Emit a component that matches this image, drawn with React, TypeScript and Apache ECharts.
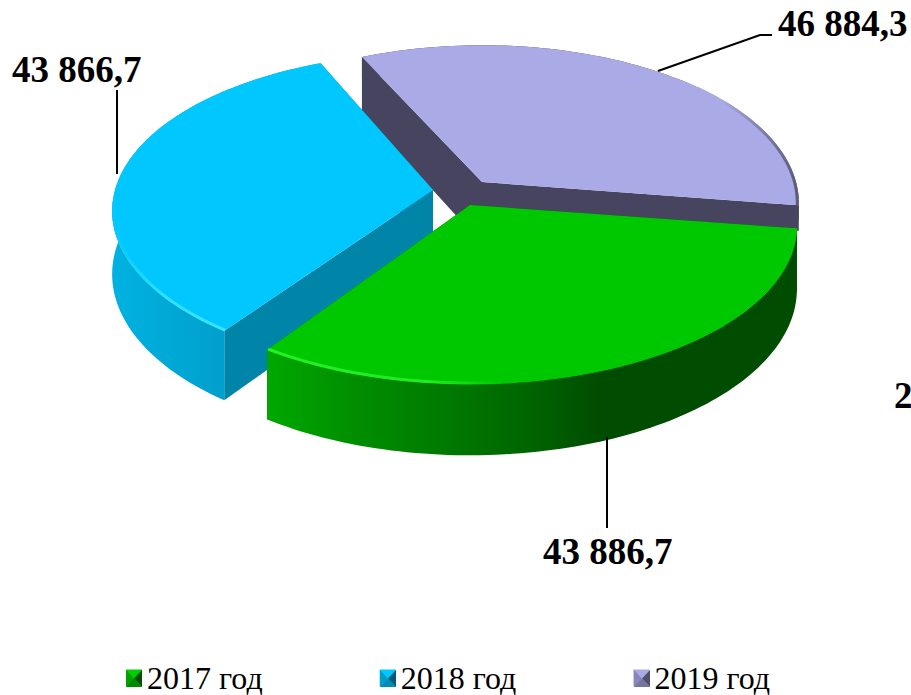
import React, { useEffect, useRef } from "react";
import * as echarts from "echarts";

const categories = ["2017 год", "2018 год", "2019 год"];
const values = [43886.7, 43866.7, 46884.3];
const valueLabels = ["43 886,7", "43 866,7", "46 884,3"];
const clippedLabel = "2";

const topColors = ["#00c800", "#00c8ff", "#aaaae6"];
const innerWallColors = ["#006000", "#0084a8", "#46445f"];
const sliceCentres = [[470, 205], [433, 190], [482, 182]];
const sliceRadii = [324, 318, 314];
// [angle where the perspective correction peaks, its size in degrees]
const angleCorrections = [[125.5, -2], [242.5, 3.5], [242.5, 1.5]];
// part of each slice's outer arc that carries the bevel highlight
const rimRanges = [[0, 1], [0, 0.42], [0.6, 1]];
// how much of the full depth shows on the slice's outer side
const outerDepthScale = [1, 1, 0.4];
// legend icon facets: top, left, right, bottom
const iconFacets = [
  ["#00d000", "#00a000", "#005000", "#008a00"],
  ["#00c8ff", "#009cc8", "#005a78", "#008cb4"],
  ["#aaaae6", "#8888b8", "#50506e", "#74749c"],
];

const FONT = "'Liberation Serif', 'Times New Roman', serif";
const START_DEG = 8.5;
const PERSPECTIVE = 0.133;
const RY = 155;
const DEPTH = 62;
const LEGEND_LEFT = 126;
const LEGEND_STEP = 254;

const outerGradients = [
  [[0, "#00a800"], [0.15, "#009000"], [0.35, "#007800"], [0.5, "#006400"], [0.63, "#004c00"], [1, "#004c00"]],
  [[0, "#00b2e0"], [0.55, "#009fcc"], [1, "#009fcc"]],
  [[0, "#46445f"], [1, "#46445f"]],
];
const rimGradients = [
  [[0, "#26f026"], [0.3, "#20ec20"], [0.45, "#00c800"], [1, "#00c800"]],
  [[0, "#00c8ff"], [0.25, "#30e0ff"], [1, "#48e8ff"]],
  [[0, "#aaaae6"], [0.82, "#aaaae6"], [1, "#5a5a78"]],
];

function warp(i: number, deg: number) {
  const [at, amount] = angleCorrections[i];
  const d = (deg - at) / 40;
  return deg + amount * Math.exp(-d * d);
}

function project(i: number, deg: number, inset = 0) {
  const t = (warp(i, deg) * Math.PI) / 180;
  const u = Math.cos(t);
  const v = Math.sin(t);
  const w = 1 - PERSPECTIVE * v;
  const [cx, cy] = sliceCentres[i];
  const k = 1 - inset / sliceRadii[i];
  return { x: cx + (k * sliceRadii[i] * u) / w, y: cy + (k * RY * v) / w, d: DEPTH / w };
}

function arc(i: number, a0: number, a1: number, inset = 0) {
  const out: { x: number; y: number; d: number }[] = [];
  const n = 90;
  for (let k = 0; k <= n; k++) out.push(project(i, a0 + ((a1 - a0) * k) / n, inset));
  return out;
}

function gradient(x0: number, x1: number, stops: any[]) {
  return new echarts.graphic.LinearGradient(
    x0, 0, x1, 0,
    stops.map(([offset, color]: any) => ({ offset, color })),
    true,
  );
}

const renderSlice = (i: number) => (_params: any, api: any) => {
  const value = api.value(0);
  const total = values.reduce((s, x) => s + x, 0);
  const before = values.slice(0, i).reduce((s, x) => s + x, 0);
  const a0 = START_DEG + (before / total) * 360;
  const a1 = a0 + (value / total) * 360;
  const pts = arc(i, a0, a1);
  const inner = arc(i, a0, a1, 1.5);
  const [cx, cy] = sliceCentres[i];
  const xs = pts.map((p) => p.x);
  const minX = Math.min(...xs);
  const maxX = Math.max(...xs);
  const scale = outerDepthScale[i];

  const wall = (p: { x: number; y: number; d: number }, depth: number) => ({
    type: "polygon",
    shape: { points: [[cx, cy], [p.x, p.y], [p.x, p.y + depth], [cx, cy + DEPTH]] },
    style: { fill: innerWallColors[i] },
  });

  const outer = {
    type: "polygon",
    shape: {
      points: [
        ...pts.map((p) => [p.x, p.y]),
        ...pts.slice().reverse().map((p) => [p.x, p.y + p.d * scale]),
      ],
    },
    style: { fill: gradient(minX, maxX, outerGradients[i]) },
  };

  const top = {
    type: "polygon",
    shape: { points: [[cx, cy], ...pts.map((p) => [p.x, p.y])] },
    style: { fill: topColors[i] },
  };

  const [r0, r1] = rimRanges[i];
  const rimPts = inner.slice(Math.round(r0 * (inner.length - 1)), Math.round(r1 * (inner.length - 1)) + 1);
  const rim = {
    type: "polyline",
    shape: { points: rimPts.map((p) => [p.x, p.y]) },
    style: { fill: "none", stroke: gradient(minX, maxX, rimGradients[i]), lineWidth: 3 },
  };

  const last = pts[pts.length - 1];
  return { type: "group", children: [wall(pts[0], pts[0].d), wall(last, last.d * scale), outer, top, rim] };
};

export default function App() {
  const ref = useRef<HTMLDivElement>(null);
  useEffect(() => {
    document.body.style.margin = "0";
    document.body.style.overflow = "hidden";
    const chart = echarts.init(ref.current!, null, { renderer: "svg" });
    const text = (s: string, x: number, baseline: number) => ({
      type: "text",
      x,
      y: baseline - 32,
      z: 20,
      style: { text: s, fill: "#000", font: `bold 37px ${FONT}` },
    });
    const leader = (points: number[][]) => ({
      type: "polyline",
      z: 20,
      shape: { points },
      style: { fill: "none", stroke: "#000", lineWidth: 2 },
    });
    const series = [2, 1, 0].map((i) => ({
      type: "custom",
      name: categories[i],
      coordinateSystem: "none",
      silent: true,
      itemStyle: { color: topColors[i] },
      data: [[values[i]]],
      renderItem: renderSlice(i),
    }));
    const iconW = 16;
    const iconH = 17;
    const iconTop = 670;
    const icons = categories.flatMap((_, i) => {
      const x0 = LEGEND_LEFT + LEGEND_STEP * i;
      const x1 = x0 + iconW;
      const y0 = iconTop;
      const y1 = y0 + iconH;
      const mx = x0 + iconW / 2;
      const my = y0 + iconH / 2;
      const faces = [
        [[x0, y0], [x1, y0], [mx, my]],
        [[x0, y0], [x0, y1], [mx, my]],
        [[x1, y0], [x1, y1], [mx, my]],
        [[x0, y1], [x1, y1], [mx, my]],
      ];
      return faces.map((points, k) => ({
        type: "polygon",
        z: 30,
        shape: { points },
        style: { fill: iconFacets[i][k] },
      }));
    });
    chart.setOption({
      animation: false,
      backgroundColor: "#fff",
      legend: {
        data: categories,
        left: LEGEND_LEFT,
        top: 662,
        padding: 0,
        itemWidth: 16,
        itemHeight: 17,
        itemGap: 117,
        icon: "rect",
        textStyle: { fontFamily: FONT, fontSize: 32, color: "#000" },
      },
      series,
      graphic: [
        leader([[607, 437], [607, 528]]),
        leader([[117, 90], [117, 174]]),
        leader([[658, 71], [760, 35], [772, 35]]),
        text(valueLabels[0], 543, 565),
        text(valueLabels[1], 12, 83),
        text(valueLabels[2], 778, 37),
        text(clippedLabel, 894, 409),
        ...icons,
      ],
    } as any);
    return () => chart.dispose();
  }, []);
  return <div ref={ref} style={{ width: 911, height: 695 }} />;
}
